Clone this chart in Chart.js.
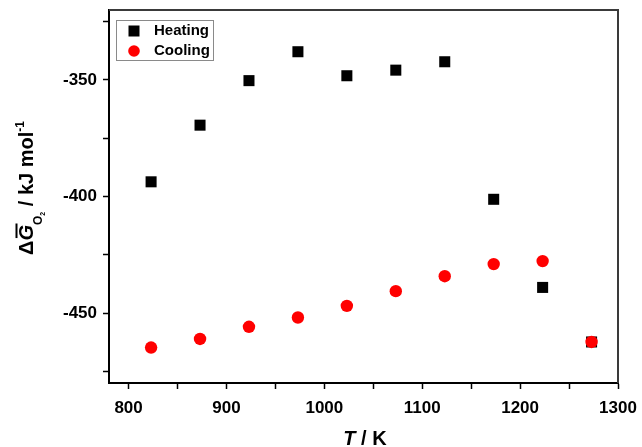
<!DOCTYPE html>
<html>
<head>
<meta charset="utf-8">
<script src="https://cdn.jsdelivr.net/npm/chart.js@4.4.1/dist/chart.umd.min.js"></script>
<style>
  html, body { margin: 0; padding: 0; background: #fff; }
  #wrap { width: 642px; height: 447px; }
</style>
</head>
<body>
<div id="wrap"><canvas id="c" width="642" height="447"></canvas></div>
<script>
// ---- data ----
const temperatures = [823, 873, 923, 973, 1023, 1073, 1123, 1173, 1223, 1273];
const heatingValues = [-393.7, -369.4, -350.3, -337.9, -348.2, -345.8, -342.2, -401.2, -439.0, -462.4];
const coolingValues = [-464.8, -461.1, -455.9, -451.9, -446.9, -440.6, -434.2, -429.0, -427.7, -462.4];
const seriesNames = ['Heating', 'Cooling'];
const xMajorTicks = [800, 900, 1000, 1100, 1200, 1300];
const yMajorTicks = [-450, -400, -350];

const FONT = '"Liberation Sans", Arial, Helvetica, sans-serif';

function toPoints(xs, ys) { return xs.map((x, i) => ({ x: x, y: ys[i] })); }

function drawRich(ctx, segs, cx, cy, rot) {
  ctx.save();
  ctx.translate(cx, cy);
  ctx.rotate(rot);
  ctx.textBaseline = 'alphabetic';
  ctx.textAlign = 'left';
  let total = 0;
  segs.forEach(s => { ctx.font = s.font; s.w = ctx.measureText(s.text).width; total += s.w + (s.gap || 0); });
  let x = -total / 2;
  segs.forEach(s => {
    ctx.font = s.font;
    ctx.fillStyle = '#000';
    ctx.fillText(s.text, x, s.dy || 0);
    if (s.bar) {
      ctx.fillRect(x + 2.5, -17.5, s.w - 1, 2);
    }
    x += s.w + (s.gap || 0);
  });
  ctx.restore();
}

const decor = {
  id: 'decor',
  afterDraw(chart) {
    const ctx = chart.ctx;
    const a = chart.chartArea;
    ctx.save();
    // top and right frame
    ctx.strokeStyle = '#3a3a3a';
    ctx.lineWidth = 2;
    ctx.beginPath();
    ctx.moveTo(a.left, a.top);
    ctx.lineTo(a.right, a.top);
    ctx.lineTo(a.right, a.bottom);
    ctx.stroke();

    // legend
    ctx.strokeStyle = '#8a8a8a';
    ctx.lineWidth = 1;
    ctx.strokeRect(116.5, 20.5, 97, 40);
    const ds = chart.data.datasets;
    ctx.fillStyle = ds[0].backgroundColor;
    ctx.fillRect(134 - 5.5, 31 - 5.5, 11, 11);
    ctx.fillStyle = ds[1].backgroundColor;
    ctx.beginPath();
    ctx.arc(134, 51, 5.8, 0, Math.PI * 2);
    ctx.fill();
    ctx.fillStyle = '#000';
    ctx.font = 'bold 15px ' + FONT;
    ctx.textBaseline = 'middle';
    ctx.textAlign = 'left';
    ctx.fillText(ds[0].label, 154, 31);
    ctx.fillText(ds[1].label, 154, 51);
    ctx.restore();

    // x title
    drawRich(ctx, [
      { text: 'T', font: 'italic bold 20px ' + FONT },
      { text: ' / K', font: 'bold 20px ' + FONT }
    ], 365, 445, 0);

    // y title
    drawRich(ctx, [
      { text: '\u0394', font: 'bold 20px ' + FONT },
      { text: 'G', font: 'italic bold 20px ' + FONT, bar: true },
      { text: 'O', font: 'bold 12px ' + FONT, dy: 9 },
      { text: '2', font: 'bold 7px ' + FONT, dy: 12 },
      { text: ' / kJ mol', font: 'bold 20px ' + FONT },
      { text: '-1', font: 'bold 12px ' + FONT, dy: -9 }
    ], 33, 188, -Math.PI / 2);
  }
};

new Chart(document.getElementById('c'), {
  type: 'scatter',
  data: {
    datasets: [
      {
        label: seriesNames[0],
        data: toPoints(temperatures, heatingValues),
        backgroundColor: '#000000',
        borderColor: '#000000',
        pointStyle: 'rect',
        pointRadius: 7.8,
        pointHoverRadius: 7.8,
        pointBorderWidth: 0,
        order: 2
      },
      {
        label: seriesNames[1],
        data: toPoints(temperatures, coolingValues),
        backgroundColor: '#ff0000',
        borderColor: '#ff0000',
        pointStyle: 'circle',
        pointRadius: 6.2,
        pointHoverRadius: 6.2,
        pointBorderWidth: 0,
        order: 1
      }
    ]
  },
  options: {
    responsive: false,
    animation: false,
    events: [],
    layout: { padding: { top: 10, right: 24, left: 0, bottom: 0 } },
    plugins: { legend: { display: false }, tooltip: { enabled: false }, title: { display: false } },
    scales: {
      x: {
        type: 'linear',
        min: 780, max: 1300,
        afterFit(s) { s.height = 64; s.paddingLeft = 0; s.paddingRight = 0; },
        ticks: {
          stepSize: 50, includeBounds: false, autoSkip: false, maxRotation: 0,
          padding: 9,
          color: '#000',
          font: { family: FONT, size: 17, weight: 'bold' },
          callback: v => xMajorTicks.includes(v) ? String(v) : ''
        },
        grid: { drawOnChartArea: false, drawTicks: true, tickLength: 6, tickColor: '#000', tickWidth: 1.5 },
        border: { display: true, color: '#000', width: 2 }
      },
      y: {
        type: 'linear',
        min: -480, max: -320,
        afterFit(s) { s.width = 109; s.paddingTop = 0; s.paddingBottom = 0; },
        ticks: {
          stepSize: 25, includeBounds: false, autoSkip: false,
          padding: 6,
          color: '#000',
          font: { family: FONT, size: 17, weight: 'bold' },
          callback: v => yMajorTicks.includes(v) ? String(v) : ''
        },
        grid: { drawOnChartArea: false, drawTicks: true, tickLength: 6, tickColor: '#000', tickWidth: 1.5 },
        border: { display: true, color: '#000', width: 2 }
      }
    }
  },
  plugins: [decor]
});
</script>
</body>
</html>
